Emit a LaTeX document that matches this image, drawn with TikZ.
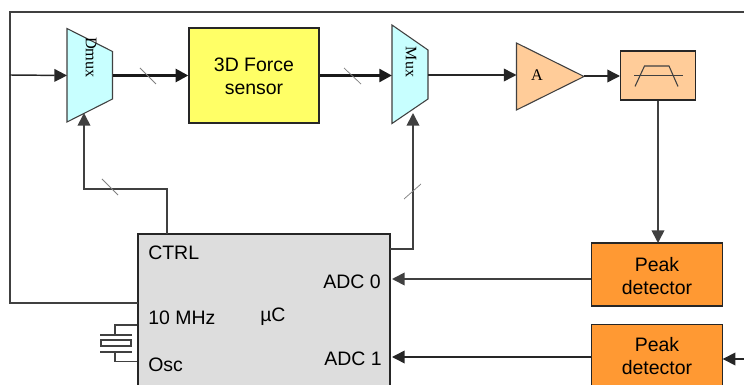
\documentclass[tikz,border=0pt]{standalone}
\usepackage{fontspec}
\setmainfont{Liberation Sans}
\newfontfamily\serifface{Liberation Serif}
\usetikzlibrary{arrows.meta}
\definecolor{cyanfill}{HTML}{C8FFFF}
\definecolor{yelfill}{HTML}{FFFF66}
\definecolor{peachfill}{HTML}{FFCC99}
\definecolor{orangefill}{HTML}{FF9933}
\definecolor{grayfill}{HTML}{DDDDDD}
\definecolor{wire}{HTML}{404040}
\tikzset{
  x=0.75pt,y=-0.75pt,
  tip/.style={-{Triangle[length=9.5pt,width=9.5pt]}},
  wireline/.style={draw=wire,line width=1.3pt},
  thin wire/.style={draw=black!85,line width=1.1pt},
  bus/.style={draw=black!90,line width=2.4pt},
  tick/.style={draw=gray,line width=0.55pt},
  blockbox/.style={draw=black!85,line width=0.9pt,inner sep=0pt},
  part/.style={draw=wire,line width=0.8pt},
  label/.style={inner sep=0pt,font=\fontsize{14.6}{17}\selectfont},
  blocklabel/.style={inner sep=0pt,align=center,font=\fontsize{14.6}{17.6}\selectfont},
  rot/.style={inner sep=0pt,font=\serifface\fontsize{12.2}{14}\selectfont,rotate=-90},
}
\begin{document}
\begin{tikzpicture}
\useasboundingbox (0,0) rectangle (744,385);
\clip (0,0) rectangle (744,385);
% blocks
\node[blockbox,fill=yelfill,minimum width=130*0.75pt,minimum height=95*0.75pt] (sensor) at (254,75.5) {};
\node[blockbox,fill=peachfill,minimum width=75*0.75pt,minimum height=49*0.75pt] (filter) at (658,75.5) {};
\node[blockbox,fill=orangefill,minimum width=131.5*0.75pt,minimum height=63*0.75pt] (peakA) at (657,274.5) {};
\node[blockbox,fill=orangefill,minimum width=131.5*0.75pt,minimum height=63*0.75pt] (peakB) at (657,356) {};
\node[blockbox,fill=grayfill,minimum width=252*0.75pt,minimum height=170*0.75pt] (ctrl) at (264,319) {};
\node[blocklabel] (sensorT) at (254,76.5) {3D Force\\sensor};
\node[blocklabel] (peakAT) at (657,276) {Peak\\detector};
\node[blocklabel] (peakBT) at (657,356) {Peak\\detector};
% polygon corners and ports
\coordinate (dmuxIn) at (67,75.5);
\coordinate (dmuxOut) at (112.5,75.5);
\coordinate (dmuxCtl) at (84,113);
\coordinate (muxIn) at (392,75.5);
\coordinate (muxOut) at (428,75);
\coordinate (muxCtl) at (413,113);
\coordinate (ampIn) at (516.5,75);
\coordinate (ampOut) at (584,76);
\coordinate (filterIn) at (620,76);
\coordinate (frameL) at (10,75);
\coordinate (frameTL) at (10,12);
\coordinate (frameBL) at (10,303);
\coordinate (frameEnd) at (138,303);
\coordinate (frameR) at (744,12);
\coordinate (adcA) at (392,279);
\coordinate (adcB) at (392,357);
\coordinate (rightIn) at (744,359);
\coordinate (peakBIn) at (722.7,359);
\coordinate (peakAOut) at (591.3,279);
\coordinate (peakBOut) at (591.3,357);
\coordinate (ctrlTop) at (167,234);
\coordinate (ctrlRight) at (390,249);
\coordinate (filterDrop) at (658,243);
% mux shapes
\draw[part,fill=cyanfill] (67,28.5) -- (112.5,51.5) -- (112.5,99) -- (67,122) -- cycle;
\draw[part,fill=cyanfill] (392,25) -- (428,50) -- (428,99) -- (392,123.5) -- cycle;
\draw[part,fill=peachfill] (516.5,43) -- (584,76.5) -- (516.5,110) -- cycle;
\node[rot] (dmuxT) at (91,57.5) {Dmux};
\node[rot,font=\serifface\fontsize{12}{14}\selectfont] (muxT) at (411,62) {Mux};
\node[inner sep=0pt,font=\serifface\fontsize{12.2}{14}\selectfont] (ampT) at (537,75) {A};
% filter glyph
\draw[part] (634,75.5) -- (683,75.5);
\draw[part] (635,86.5) -- (644.5,66) -- (669,66) -- (678,86.5);
% connectors
\draw[wireline] (frameEnd) -- (frameBL) -- (frameTL) -- (frameR);
\draw[thin wire,tip] (frameL) -- (dmuxIn);
\draw[bus,tip] (dmuxOut) -- (sensor.west);
\draw[bus,tip] (sensor.east) -- (muxIn);
\draw[thin wire,tip] (muxOut) -- (ampIn);
\draw[thin wire,tip] (ampOut) -- (filterIn);
\draw[wireline,tip] (filter.south) -- (filterDrop);
\draw[wireline,tip] (peakAOut) -- (adcA);
\draw[thin wire,tip] (peakBOut) -- (adcB);
\draw[thin wire,tip] (rightIn) -- (peakBIn);
\draw[wireline,tip] (ctrlTop) |- (84,189) -- (dmuxCtl);
\draw[wireline,tip] (ctrlRight) -| (muxCtl);
% bus ticks
\draw[tick] (140,68) -- (156,84);
\draw[tick] (344,68) -- (361,84);
\draw[tick] (102,179) -- (118,195);
\draw[tick] (404,199) -- (421,184);
% crystal
\draw[part] (ctrl.west |- 0,325) -- (115,325) -- (115,334);
\draw[part] (ctrl.west |- 0,361.5) -- (115,361.5) -- (115,352);
\draw[part,line width=1.1pt] (100,335) -- (132,335);
\draw[part,line width=1.1pt] (100,352) -- (132,352);
\draw[part] (101,340) rectangle (131,346);
% texts in the controller
\node[label,anchor=west] (tCtrl) at (148,252.5) {CTRL};
\node[label,anchor=west] (tClock) at (148,317.5) {10 MHz};
\node[label,anchor=west] (tUc) at (260,316.5) {µC};
\node[label,anchor=west] (tOsc) at (148,365) {Osc};
\node[label,anchor=west] (tAdcA) at (323,282) {ADC 0};
\node[label,anchor=west] (tAdcB) at (324,359) {ADC 1};
\end{tikzpicture}
\end{document}
